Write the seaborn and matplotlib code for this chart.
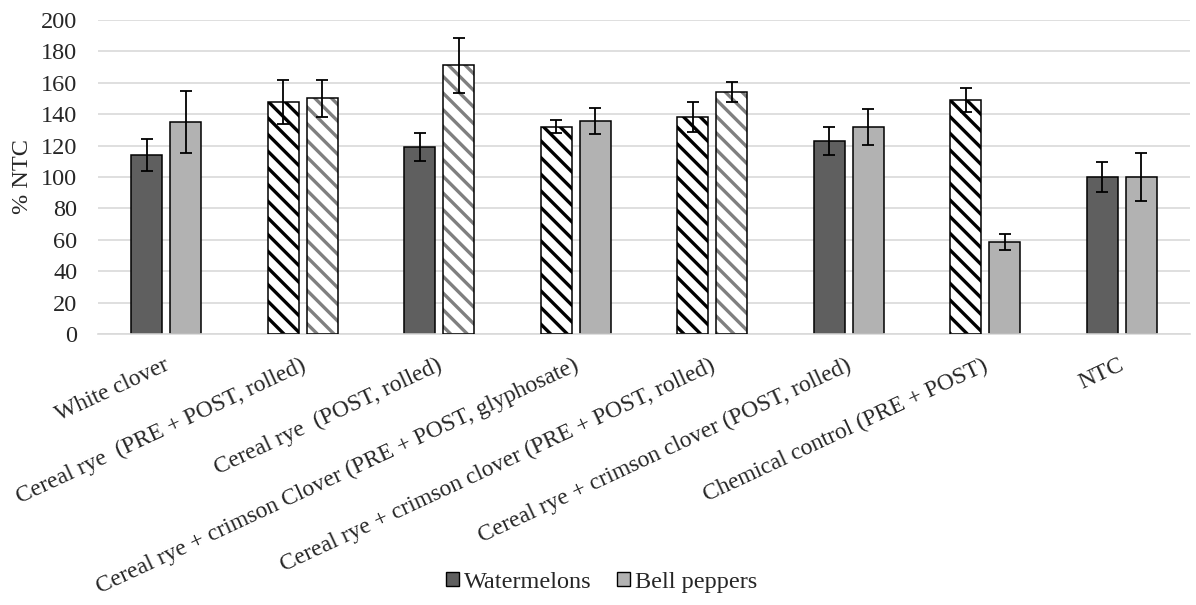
import pandas as pd
import seaborn as sns
import matplotlib.pyplot as plt
import matplotlib.transforms as mtransforms
from matplotlib.patches import Rectangle, Patch

# treatments on the x axis
treatments = [
    "White clover",
    "Cereal rye  (PRE + POST, rolled)",
    "Cereal rye  (POST, rolled)",
    "Cereal rye + crimson Clover (PRE + POST, glyphosate)",
    "Cereal rye + crimson clover (PRE + POST, rolled)",
    "Cereal rye + crimson clover (POST, rolled)",
    "Chemical control (PRE + POST)",
    "NTC",
]

# % NTC values and error bars
watermelons = [114, 148, 119, 132, 138, 123, 149, 100]
watermelons_err = [10, 14, 9, 4, 9.5, 9, 7.5, 9.7]
bell_peppers = [135, 150, 171, 135.5, 154, 132, 58.5, 100]
bell_peppers_err = [19.5, 12, 17.6, 8.3, 6.3, 11.4, 5.2, 15.3]

# which bars are drawn hatched
watermelons_hatched = [False, True, False, True, True, False, True, False]
bell_peppers_hatched = [False, True, True, False, True, False, False, False]

crops = ["Watermelons", "Bell peppers"]
colors = {"Watermelons": "#5f5f5f", "Bell peppers": "#b2b2b2"}
hatch_colors = {"Watermelons": "black", "Bell peppers": "#7f7f7f"}

df = pd.DataFrame({
    "treatment": treatments * 2,
    "crop": ["Watermelons"] * len(treatments) + ["Bell peppers"] * len(treatments),
    "value": watermelons + bell_peppers,
    "err": watermelons_err + bell_peppers_err,
    "hatched": watermelons_hatched + bell_peppers_hatched,
})

sns.set_style("white")
plt.rcParams["font.family"] = ["Liberation Serif", "DejaVu Serif"]
plt.rcParams["hatch.linewidth"] = 2.4
fs = 17.5

fig = plt.figure(figsize=(11.96, 6.05), dpi=100)
ax = fig.add_axes([0.082, 0.448, 0.913, 0.519])

sns.barplot(data=df, x="treatment", y="value", hue="crop", hue_order=crops,
            palette=colors, width=0.57, gap=0.2, edgecolor="black",
            linewidth=1.1, errorbar=None, legend=False, ax=ax, zorder=2)

for crop, container in zip(crops, ax.containers):
    sub = df[df["crop"] == crop]
    xs = []
    for bar, hatched in zip(container, sub["hatched"]):
        xs.append(bar.get_x() + bar.get_width() / 2)
        if hatched:
            bar.set_facecolor("white")
            bar.set_edgecolor(hatch_colors[crop])
            bar.set_hatch("\\\\")
            bar.set_linewidth(0)
            ax.add_patch(Rectangle((bar.get_x(), 0), bar.get_width(), bar.get_height(),
                                   fill=False, edgecolor="black", linewidth=1.1, zorder=3))
    ax.errorbar(xs, sub["value"], yerr=sub["err"], fmt="none", ecolor="black",
                elinewidth=1.3, capsize=4.3, capthick=1.3, zorder=4)

ax.set_ylim(0, 200)
ax.set_xlim(-0.5, 7.5)
ax.set_yticks(range(0, 201, 20))
ax.yaxis.grid(True, color="#d9d9d9", linewidth=1.2, zorder=0)
ax.set_axisbelow(True)
for side in ["top", "right", "left"]:
    ax.spines[side].set_visible(False)
ax.spines["bottom"].set_color("#d9d9d9")
ax.spines["bottom"].set_linewidth(1.2)
ax.tick_params(axis="both", length=0, labelsize=fs)
ax.tick_params(axis="x", labelsize=17)
ax.tick_params(axis="y", pad=15)

ax.set_xlabel("")
ax.set_ylabel("% NTC", fontsize=fs, labelpad=6)

offset = mtransforms.ScaledTranslation(-0.03, -0.16, fig.dpi_scale_trans)
for lbl in ax.get_xticklabels():
    lbl.set_rotation(25)
    lbl.set_ha("right")
    lbl.set_va("top")
    lbl.set_rotation_mode("anchor")
    lbl.set_transform(lbl.get_transform() + offset)

handles = [Patch(facecolor=colors[c], edgecolor="black", linewidth=1.0) for c in crops]
fig.legend(handles, crops, loc="center", bbox_to_anchor=(0.503, 0.038), ncol=2,
           frameon=False, fontsize=fs, handlelength=0.55, handleheight=0.55,
           handletextpad=0.2, columnspacing=1.05)

plt.savefig("out.png", dpi=100)
